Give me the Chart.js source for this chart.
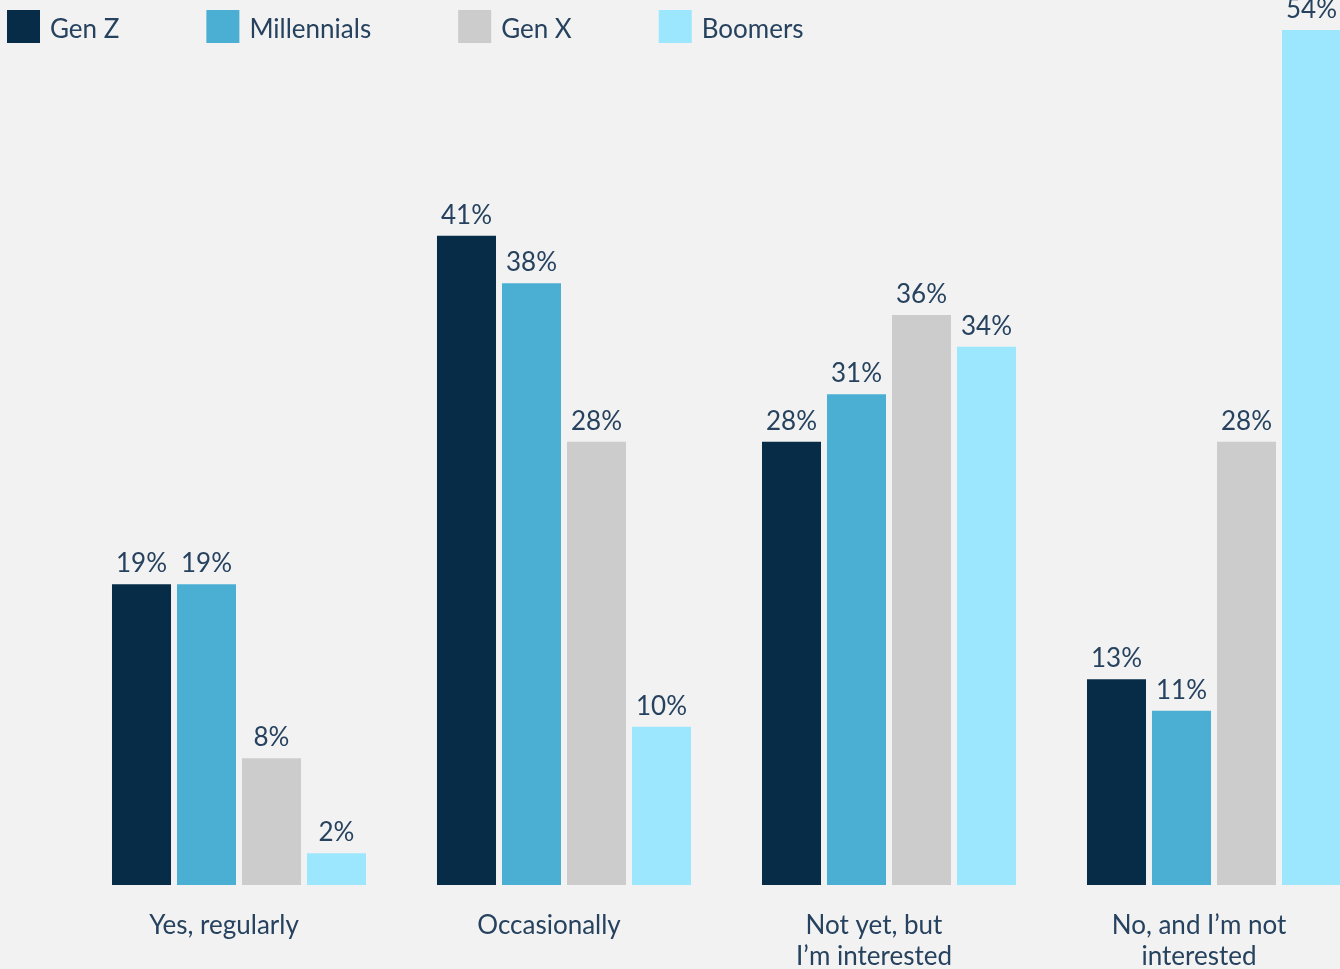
<!DOCTYPE html>
<html>
<head>
<meta charset="utf-8">
<script src="https://cdn.jsdelivr.net/npm/chart.js@4.4.1/dist/chart.umd.min.js"></script>
<style>
  html, body { margin: 0; padding: 0; background: #f2f2f2; overflow: hidden; }
  #wrap { position: absolute; left: 0; top: 0; width: 1380px; height: 1000px; }
</style>
</head>
<body>
<div id="wrap"><canvas id="genChart" width="1380" height="1000"></canvas></div>
<script>
const categories = [['Yes, regularly'], ['Occasionally'], ['Not yet, but', 'I\u2019m interested'], ['No, and I\u2019m not', 'interested']];
const generations = ['Gen Z', 'Millennials', 'Gen X', 'Boomers'];
const genZ        = [19, 41, 28, 13];
const millennials = [19, 38, 31, 11];
const genX        = [8, 28, 36, 28];
const boomers     = [2, 10, 34, 54];
const colors = ['#072c48', '#4bafd4', '#cccccc', '#9ce6fe'];

const TEXT = '#26425e';
const FONT = 'Lato, "Open Sans", sans-serif';
const SIZE = 26;

// value labels above each bar
const valueLabels = {
  id: 'valueLabels',
  afterDatasetsDraw(chart) {
    const ctx = chart.ctx;
    ctx.save();
    ctx.fillStyle = TEXT;
    ctx.font = SIZE + 'px ' + FONT;
    ctx.textAlign = 'center';
    ctx.textBaseline = 'alphabetic';
    chart.data.datasets.forEach((ds, i) => {
      chart.getDatasetMeta(i).data.forEach((bar, j) => {
        ctx.fillText(ds.data[j] + '%', bar.x, bar.y - 12);
      });
    });
    ctx.restore();
  }
};

// legend row across the top, squares + names
const topLegend = {
  id: 'topLegend',
  afterDraw(chart) {
    const ctx = chart.ctx;
    ctx.save();
    ctx.font = SIZE + 'px ' + FONT;
    ctx.textBaseline = 'alphabetic';
    let x = 7;
    chart.data.datasets.forEach(ds => {
      ctx.fillStyle = ds.backgroundColor;
      ctx.fillRect(x, 10, 33, 33);
      ctx.fillStyle = TEXT;
      ctx.fillText(ds.label, x + 43, 38);
      x += 43 + ctx.measureText(ds.label).width + 87;
    });
    ctx.restore();
  }
};

const series = [genZ, millennials, genX, boomers];

new Chart(document.getElementById('genChart'), {
  type: 'bar',
  data: {
    labels: categories,
    datasets: generations.map((g, i) => ({
      label: g,
      data: series[i],
      backgroundColor: colors[i],
      categoryPercentage: 0.8,
      barPercentage: 0.908
    }))
  },
  options: {
    responsive: false,
    animation: false,
    layout: { padding: { left: 76.5, right: 3.5, top: 30, bottom: 0 } },
    plugins: { legend: { display: false }, tooltip: { enabled: false } },
    scales: {
      x: {
        grid: { display: false },
        border: { display: false },
        ticks: {
          color: TEXT,
          font: { family: FONT, size: SIZE, lineHeight: 1.2 },
          padding: 17,
          labelOffset: -15,
          maxRotation: 0,
          autoSkip: false
        },
        afterFit: (scale) => { scale.height = 115; }
      },
      y: {
        display: false,
        min: 0,
        max: 54
      }
    }
  },
  plugins: [valueLabels, topLegend]
});
</script>
</body>
</html>
